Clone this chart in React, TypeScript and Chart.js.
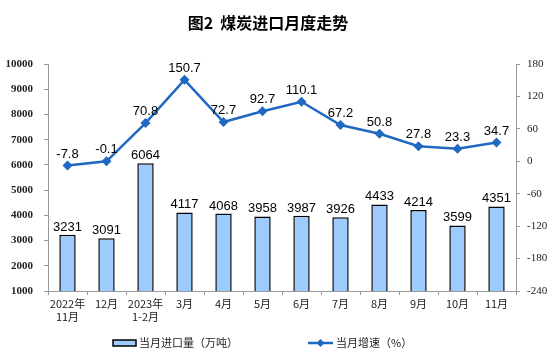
import React, { useEffect, useRef } from "react";
import { Chart, registerables } from "chart.js";

Chart.register(...registerables);

const categories: (string | string[])[] = [
  ["2022年", "11月"], "12月", ["2023年", "1-2月"], "3月", "4月", "5月", "6月", "7月", "8月", "9月", "10月", "11月",
];
const importVolume = [3231, 3091, 6064, 4117, 4068, 3958, 3987, 3926, 4433, 4214, 3599, 4351];
const growthRate = [-7.8, -0.1, 70.8, 150.7, 72.7, 92.7, 110.1, 67.2, 50.8, 27.8, 23.3, 34.7];
const title = "图2  煤炭进口月度走势";
const barLabel = "当月进口量（万吨）";
const lineLabel = "当月增速（%）";

const BAR_FILL = "#9DCBFD";
const LINE_COLOR = "#2068C0";

const labelsPlugin = {
  id: "customLabels",
  afterDatasetsDraw(chart: any) {
    const ctx = chart.ctx;
    ctx.save();
    ctx.fillStyle = "#000";
    ctx.font = "13px 'Liberation Sans', Arial, sans-serif";
    ctx.textAlign = "center";
    ctx.textBaseline = "alphabetic";
    const barMeta = chart.getDatasetMeta(0);
    barMeta.data.forEach((el: any, i: number) => {
      ctx.fillText(String(importVolume[i]), el.x, el.y - 4);
    });
    const lineMeta = chart.getDatasetMeta(1);
    lineMeta.data.forEach((el: any, i: number) => {
      ctx.fillText(growthRate[i].toFixed(1), el.x, el.y - 8);
    });
    ctx.restore();
  },
  afterDraw(chart: any) {
    const ctx = chart.ctx;
    ctx.save();
    ctx.fillStyle = "#000";
    ctx.font = "bold 16px 'Noto Sans CJK SC', sans-serif";
    ctx.textAlign = "center";
    ctx.textBaseline = "middle";
    ctx.fillText(title, 268, 23);
    ctx.font = "11px 'Noto Sans CJK SC', sans-serif";
    ctx.textAlign = "left";
    ctx.textBaseline = "middle";
    const ly = 343;
    ctx.fillStyle = BAR_FILL;
    ctx.strokeStyle = "#000";
    ctx.lineWidth = 1.5;
    ctx.fillRect(113, ly - 3, 23, 6);
    ctx.strokeRect(113, ly - 3, 23, 6);
    ctx.fillStyle = "#222";
    ctx.fillText(barLabel, 139, ly);
    ctx.strokeStyle = LINE_COLOR;
    ctx.lineWidth = 2.5;
    ctx.beginPath();
    ctx.moveTo(308, ly);
    ctx.lineTo(333, ly);
    ctx.stroke();
    ctx.fillStyle = LINE_COLOR;
    ctx.beginPath();
    ctx.moveTo(320.5, ly - 4);
    ctx.lineTo(324.5, ly);
    ctx.lineTo(320.5, ly + 4);
    ctx.lineTo(316.5, ly);
    ctx.closePath();
    ctx.fill();
    ctx.fillStyle = "#222";
    ctx.fillText(lineLabel, 336, ly);
    ctx.restore();
  },
};

export default function App() {
  const ref = useRef<HTMLCanvasElement | null>(null);
  useEffect(() => {
    document.body.style.margin = "0";
    const canvas = ref.current;
    if (!canvas) return;
    const chart = new Chart(canvas, {
      type: "bar",
      data: {
        labels: categories as any,
        datasets: [
          {
            type: "bar",
            label: barLabel,
            data: importVolume,
            backgroundColor: BAR_FILL,
            borderColor: "#000",
            borderWidth: 1.5,
            barPercentage: 0.42,
            categoryPercentage: 1,
            yAxisID: "y",
            order: 2,
          },
          {
            type: "line",
            label: lineLabel,
            data: growthRate,
            borderColor: LINE_COLOR,
            backgroundColor: LINE_COLOR,
            borderWidth: 2.5,
            pointStyle: "rectRot",
            pointRadius: 5,
            pointBorderWidth: 0,
            tension: 0,
            yAxisID: "y1",
            order: 1,
          } as any,
        ],
      },
      options: {
        responsive: false,
        animation: false,
        layout: { padding: { top: 64, left: 0, right: 0, bottom: 0 } },
        plugins: {
          legend: { display: false },
          tooltip: { enabled: false },
          title: { display: false },
        },
        scales: {
          x: {
            grid: { display: true, drawOnChartArea: false, offset: true, tickLength: 4, color: "#999" },
            border: { color: "#999" },
            ticks: {
              color: "#222",
              font: { size: 11, family: "'Noto Sans CJK SC', sans-serif" },
              maxRotation: 0,
              autoSkip: false,
              padding: 2,
            },
            afterFit(scale: any) {
              scale.height = 69;
            },
          },
          y: {
            position: "left",
            min: 1000,
            max: 10000,
            grid: { display: true, drawOnChartArea: false, tickLength: 4, color: "#999" },
            border: { color: "#999" },
            ticks: {
              stepSize: 1000,
              color: "#222",
              font: { size: 11, family: "'Liberation Serif', serif", weight: "bold" },
              padding: 11,
              callback: (v: any) => String(v),
            },
            afterFit(scale: any) {
              scale.width = 48;
            },
          },
          y1: {
            position: "right",
            min: -240,
            max: 180,
            grid: { display: true, drawOnChartArea: false, tickLength: 4, color: "#999" },
            border: { color: "#999" },
            ticks: {
              stepSize: 60,
              color: "#222",
              font: { size: 11, family: "'Liberation Serif', serif" },
              padding: 7,
              callback: (v: any) => String(v),
            },
            afterFit(scale: any) {
              scale.width = 38;
            },
          },
        },
      },
      plugins: [labelsPlugin],
    });
    return () => chart.destroy();
  }, []);
  return <canvas ref={ref} width={554} height={360} style={{ display: "block" }} />;
}
